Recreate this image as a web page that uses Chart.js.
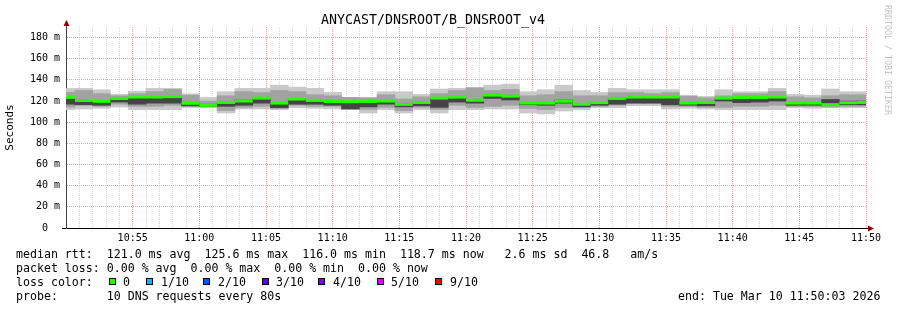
<!DOCTYPE html>
<html>
<head>
<meta charset="utf-8">
<script src="https://cdn.jsdelivr.net/npm/chart.js@4.4.1/dist/chart.umd.min.js"></script>
<style>
  body { margin: 0; background: #fff; }
  #wrap { position: relative; width: 897px; height: 310px; font-family: 'DejaVu Sans Mono', monospace; color: #000; }
  #chart { position: absolute; left: 0; top: 0; }
  .row { position: absolute; font-size: 11.6px; line-height: 14px; white-space: pre; }
  .box { position: absolute; top: 278px; width: 5px; height: 5px; border: 1px solid #000; }
</style>
</head>
<body>
<div id="wrap">
  <canvas id="chart" width="897" height="310"></canvas>
  <div class="row" style="left:16px;top:247px">median rtt:  121.0 ms avg  125.6 ms max  116.0 ms min  118.7 ms now   2.6 ms sd  46.8   am/s</div>
  <div class="row" style="left:16px;top:261px">packet loss: 0.00 % avg  0.00 % max  0.00 % min  0.00 % now</div>
  <div class="row" style="left:16px;top:275px">loss color:</div>
  <div id="losses"></div>
  <div class="row" style="left:16px;top:289px">probe:       10 DNS requests every 80s</div>
  <div class="row" style="left:678px;top:289px">end: Tue Mar 10 11:50:03 2026</div>
</div>
<script>
// seconds after 10:50:00, one sample every 80s
const times = [0, 80, 160, 240, 320, 400, 480, 560, 640, 720, 800, 880, 960, 1040, 1120, 1200,
  1280, 1360, 1440, 1520, 1600, 1680, 1760, 1840, 1920, 2000, 2080, 2160, 2240, 2320, 2400,
  2480, 2560, 2640, 2720, 2800, 2880, 2960, 3040, 3120, 3200, 3280, 3360, 3440, 3520, 3600];

// median rtt (ms)
const median = [123.7, 120.6, 119.8, 122.5, 123.8, 123.8, 124.2, 117.9, 116.0, 118.7, 120.0, 122.8, 118.1, 121.9, 120.6, 119.6,
  119.4, 119.7, 120.0, 116.9, 118.7, 122.8, 123.7, 120.8, 125.6, 124.7, 118.1, 118.1, 119.8, 117.0, 118.5,
  122.5, 123.8, 123.8, 123.8, 118.1, 118.7, 122.8, 123.4, 123.4, 123.8, 118.1, 118.1, 116.6, 118.4, 118.7];

// smoke: slowest / fastest ping
const maxPing = [131.9, 132.0, 130.7, 126.3, 129.4, 132.0, 132.0, 126.9, 123.4, 128.8, 132.0, 132.0, 135.1, 133.2, 132.0, 128.2,
  123.5, 123.4, 128.8, 128.8, 126.3, 131.4, 132.0, 132.6, 135.1, 136.0, 128.8, 130.7, 135.1, 130.0, 128.2,
  132.0, 130.7, 130.7, 130.7, 125.6, 124.4, 130.7, 128.8, 128.8, 132.0, 126.3, 125.6, 131.4, 128.8, 128.8];
const minPing = [111.8, 112.5, 113.1, 114.3, 111.8, 111.8, 111.8, 113.7, 113.7, 108.7, 112.5, 112.5, 111.8, 113.7, 113.1, 112.5,
  111.8, 108.7, 111.8, 108.7, 111.8, 108.7, 111.8, 111.8, 112.5, 112.5, 108.7, 107.8, 110.6, 111.8, 113.7,
  113.7, 115.6, 115.6, 112.5, 113.1, 112.5, 111.8, 111.8, 111.8, 111.8, 113.7, 113.1, 113.7, 113.7, 113.7];

// smoke: middle band
const midHigh = [128.2, 130, 127, 125, 127, 129, 131, 125.5, 120, 125, 129, 128, 130, 129, 126, 125,
  123.5, 123, 126, 122, 124, 127, 130, 132.6, 130, 131, 125, 126, 129, 125, 125,
  128, 128, 127, 128, 124.5, 123, 125, 127, 127, 129, 124, 123, 125, 126, 126];
const midLow = [114.3, 116, 115, 117, 115, 115, 116, 115, 114.5, 111, 114, 115, 114, 116, 115, 115,
  113.5, 112, 114, 111, 114, 112, 116, 114, 115, 116, 113, 112, 114, 114, 115,
  116, 118, 118, 115, 115, 114, 114, 115, 115, 116, 115, 115, 114.5, 115, 115];

// smoke: dark core
const coreHigh = [122, 119.5, 119, 122, 123, 123, 123.5, 117.5, 117, 118, 121, 122, 118, 121, 120, 119,
  118.8, 119, 119, 116.5, 118.5, 122, 123, 120, 124.5, 124, 118, 118, 121, 117, 118,
  122, 123, 123, 123, 117.5, 118, 122, 123, 123, 123.5, 117.5, 118, 121.5, 120, 120];
const coreLow = [117, 116.5, 116, 119, 117, 118, 118, 115.5, 115, 115, 116, 118, 113.5, 117, 117, 116,
  112.5, 114.5, 117, 114.5, 115.5, 114, 119, 118, 122.5, 121, 116.5, 116, 118, 114.5, 116,
  117, 118, 118, 116.5, 116, 115.5, 120, 118.5, 119, 120, 116, 116, 117, 116.5, 116.5];

const xLabels = ['10:55', '11:00', '11:05', '11:10', '11:15', '11:20', '11:25', '11:30', '11:35', '11:40', '11:45', '11:50'];
const yLabels = ['0  ', '20 m', '40 m', '60 m', '80 m', '100 m', '120 m', '140 m', '160 m', '180 m'];

const lossNames = ['0', '1/10', '2/10', '3/10', '4/10', '5/10', '9/10'];
const lossColors = ['#26ff00', '#00b8ff', '#0059ff', '#5e00ff', '#7e00ff', '#dd00ff', '#ff0000'];

const mono = 'DejaVu Sans Mono';
const majorGrid = '#f59a9a';
const minorGrid = '#d4d4d4';
const stepWidth = 800 * 80 / 3600; // one 80s step in pixels

// loss colour legend
const boxX = [109, 146, 203, 262, 318, 377, 435];
const textX = [123, 161, 218, 276, 333, 391, 450];
const losses = document.getElementById('losses');
lossNames.forEach((name, i) => {
  const b = document.createElement('div');
  b.className = 'box';
  b.style.left = boxX[i] + 'px';
  b.style.background = lossColors[i];
  losses.appendChild(b);
  const t = document.createElement('div');
  t.className = 'row';
  t.style.left = textX[i] + 'px';
  t.style.top = '275px';
  t.textContent = name;
  losses.appendChild(t);
});

function band(lo, hi) {
  return times.map((t, i) => ({ x: t, y: [lo[i], hi[i]] }));
}

const barStyle = { grouped: false, barThickness: stepWidth, borderWidth: 0, clip: 0 };

// arrows on the axes and the rrdtool watermark
const extras = {
  id: 'extras',
  afterDraw(chart) {
    const { ctx, chartArea: a } = chart;
    ctx.save();
    ctx.lineWidth = 1;
    ctx.strokeStyle = '#000';
    ctx.beginPath();
    ctx.moveTo(a.left - 4, a.bottom + 0.5);
    ctx.lineTo(a.left, a.bottom + 0.5);
    ctx.moveTo(a.right, a.bottom + 0.5);
    ctx.lineTo(a.right + 4, a.bottom + 0.5);
    ctx.stroke();
    ctx.strokeStyle = '#444';
    ctx.beginPath();
    ctx.moveTo(a.left + 0.5, a.top);
    ctx.lineTo(a.left + 0.5, a.top - 3);
    ctx.stroke();
    ctx.fillStyle = '#8b0000';
    ctx.beginPath();
    ctx.moveTo(a.left + 0.5, a.top - 7);
    ctx.lineTo(a.left - 2.5, a.top - 1);
    ctx.lineTo(a.left + 3.5, a.top - 1);
    ctx.closePath();
    ctx.fill();
    ctx.beginPath();
    ctx.moveTo(a.right + 8, a.bottom + 0.5);
    ctx.lineTo(a.right + 2, a.bottom - 2.5);
    ctx.lineTo(a.right + 2, a.bottom + 3.5);
    ctx.closePath();
    ctx.fill();

    ctx.translate(887, 5);
    ctx.rotate(Math.PI / 2);
    ctx.fillStyle = '#c4c4c4';
    ctx.font = '8.3px "' + mono + '"';
    ctx.textBaseline = 'middle';
    ctx.fillText('RRDTOOL / TOBI OETIKER', 0, 0);
    ctx.restore();
  }
};

new Chart(document.getElementById('chart'), {
  type: 'bar',
  data: {
    datasets: [
      {
        type: 'line',
        data: times.map((t, i) => ({ x: t, y: median[i] })),
        showLine: false,
        pointStyle: 'line',
        pointRadius: stepWidth / 2,
        pointBorderWidth: 3,
        pointBorderColor: '#26ff00',
        order: 0,
        clip: 0
      },
      Object.assign({ data: band(coreLow, coreHigh), backgroundColor: '#454545', order: 1 }, barStyle),
      Object.assign({ data: band(midLow, midHigh), backgroundColor: '#a2a2a2', order: 2 }, barStyle),
      Object.assign({ data: band(minPing, maxPing), backgroundColor: '#c9c9c9', order: 3 }, barStyle)
    ]
  },
  options: {
    responsive: false,
    animation: false,
    events: [],
    layout: { padding: { left: 0, right: 31, top: 0, bottom: 0 } },
    plugins: {
      legend: { display: false },
      tooltip: { enabled: false },
      title: {
        display: true,
        text: 'ANYCAST/DNSROOT/B_DNSROOT_v4',
        color: '#000',
        font: { family: mono, size: 13.3, weight: 'normal', lineHeight: 1 },
        padding: { top: 13.7, bottom: 0 }
      }
    },
    scales: {
      x: {
        type: 'linear',
        min: 0,
        max: 3600,
        offset: false,
        afterBuildTicks: s => { const t = []; for (let v = 0; v <= 3600; v += 60) t.push({ value: v }); s.ticks = t; },
        afterFit: s => { s.height = 82; },
        grid: {
          offset: false,
          drawTicks: false,
          color: c => (c.index % 5 === 0 ? majorGrid : minorGrid)
        },
        border: { color: '#000', width: 1, dash: [1, 1] },
        ticks: {
          autoSkip: false,
          maxRotation: 0,
          padding: 4,
          color: '#000',
          font: { family: mono, size: 10 },
          callback: v => (v % 300 === 0 && v > 0 ? xLabels[v / 300 - 1] : '')
        }
      },
      y: {
        min: 0,
        max: 190,
        afterBuildTicks: s => { const t = []; for (let k = 0; k * 20 / 3 < 190; k++) t.push({ value: k * 20 / 3 }); s.ticks = t; },
        afterFit: s => { s.width = 66; },
        grid: {
          drawTicks: false,
          color: c => (c.index % 3 === 0 ? majorGrid : minorGrid)
        },
        border: { color: '#444', width: 1, dash: [1, 1] },
        title: {
          display: true,
          text: 'Seconds',
          color: '#000',
          font: { family: mono, size: 11 },
          padding: { top: 4, bottom: 0 }
        },
        ticks: {
          padding: 6,
          color: '#000',
          font: { family: mono, size: 10 },
          callback: v => {
            const r = Math.round(v / 20);
            return Math.abs(v / 20 - r) < 1e-6 ? yLabels[r] : '';
          }
        }
      }
    }
  },
  plugins: [extras]
});
</script>
</body>
</html>
